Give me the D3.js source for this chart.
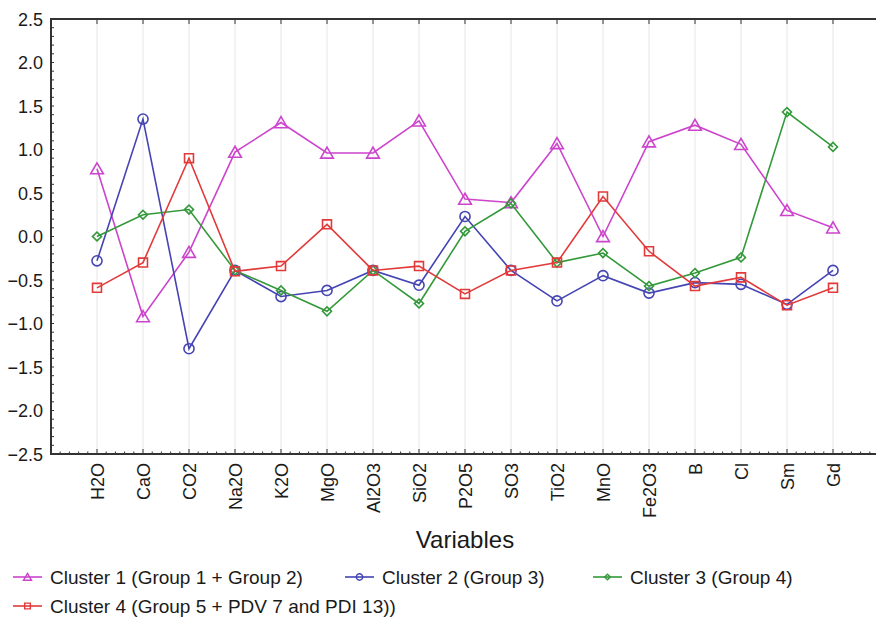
<!DOCTYPE html>
<html>
<head>
<meta charset="utf-8">
<script src="https://cdn.jsdelivr.net/npm/d3@7"></script>
<style>
  html, body { margin: 0; padding: 0; background: #fff; }
  svg { display: block; font-family: "Liberation Sans", Arial, sans-serif; }
</style>
</head>
<body>
<svg id="chart" width="876" height="617"></svg>
<script>
// Variables along the x axis
const variables = ["H2O", "CaO", "CO2", "Na2O", "K2O", "MgO", "Al2O3", "SiO2", "P2O5",
                   "SO3", "TiO2", "MnO", "Fe2O3", "B", "Cl", "Sm", "Gd"];

// Mean standardized values per cluster
const cluster1 = [0.78, -0.92, -0.18, 0.97, 1.31, 0.96, 0.96, 1.33, 0.43, 0.39, 1.07, 0.00, 1.09, 1.28, 1.06, 0.30, 0.10];
const cluster2 = [-0.28, 1.35, -1.29, -0.39, -0.69, -0.62, -0.39, -0.56, 0.23, -0.39, -0.74, -0.45, -0.65, -0.53, -0.55, -0.78, -0.39];
const cluster3 = [0.00, 0.25, 0.31, -0.39, -0.62, -0.86, -0.39, -0.77, 0.06, 0.38, -0.30, -0.19, -0.57, -0.42, -0.24, 1.43, 1.03];
const cluster4 = [-0.59, -0.30, 0.90, -0.40, -0.34, 0.14, -0.39, -0.34, -0.66, -0.39, -0.30, 0.46, -0.17, -0.57, -0.47, -0.79, -0.59];

const seriesNames = [
  "Cluster 1 (Group 1 + Group 2)",
  "Cluster 2 (Group 3)",
  "Cluster 3 (Group 4)",
  "Cluster 4 (Group 5 + PDV 7 and PDI 13))"
];

const yTicks = [2.5, 2.0, 1.5, 1.0, 0.5, 0.0, -0.5, -1.0, -1.5, -2.0, -2.5];

const series = [
  { name: seriesNames[0], values: cluster1, color: "#cc44cc", symbol: "triangle" },
  { name: seriesNames[1], values: cluster2, color: "#4444b4", symbol: "circle" },
  { name: seriesNames[2], values: cluster3, color: "#33993a", symbol: "diamond" },
  { name: seriesNames[3], values: cluster4, color: "#e23a3a", symbol: "square" }
];

const svg = d3.select("#chart");
const plot = { left: 51, right: 879, top: 19, bottom: 454 };

// one empty slot on each side of the variables
const x = d3.scaleLinear().domain([-1, variables.length]).range([plot.left, plot.right]);
const y = d3.scaleLinear().domain([-2.5, 2.5]).range([plot.bottom, plot.top]);

const axisColor = "#333";

// faint vertical grid at each variable
svg.append("g")
  .selectAll("line")
  .data(variables)
  .join("line")
  .attr("x1", (d, i) => x(i)).attr("x2", (d, i) => x(i))
  .attr("y1", plot.top).attr("y2", plot.bottom)
  .attr("stroke", "#e6e6e6").attr("stroke-width", 1);

// minor / major tick values
const yMinor = d3.range(-25, 26).map(v => v / 10);
const xMinor = d3.range(-5, variables.length * 5 + 5).map(v => v / 5).filter(v => Math.abs(v - Math.round(v)) > 1e-6);

// left axis labels
const leftAxis = d3.axisLeft(y).tickValues(yTicks).tickFormat(d3.format(".1f")).tickSize(0).tickPadding(8);
svg.append("g")
  .attr("transform", `translate(${plot.left},0)`)
  .call(leftAxis)
  .call(g => g.select(".domain").remove())
  .call(g => g.selectAll("text").attr("font-size", 18).attr("fill", "#1a1a1a")
      .attr("font-family", "Liberation Sans, Arial, sans-serif").attr("dy", "0.35em"));

const ticks = svg.append("g").attr("stroke", axisColor).attr("stroke-width", 1);
// y minor ticks left and right, inward
ticks.selectAll(".ylm").data(yMinor).join("line")
  .attr("x1", plot.left).attr("x2", plot.left + 3)
  .attr("y1", d => y(d)).attr("y2", d => y(d));
ticks.selectAll(".yrm").data(yMinor).join("line")
  .attr("x1", plot.right).attr("x2", plot.right - 3)
  .attr("y1", d => y(d)).attr("y2", d => y(d));
// x major ticks top and bottom, inward
ticks.selectAll(".xt").data(variables).join("line")
  .attr("x1", (d, i) => x(i)).attr("x2", (d, i) => x(i))
  .attr("y1", plot.top).attr("y2", plot.top + 5);
ticks.selectAll(".xb").data(variables).join("line")
  .attr("x1", (d, i) => x(i)).attr("x2", (d, i) => x(i))
  .attr("y1", plot.bottom).attr("y2", plot.bottom - 5);
// x minor ticks on bottom
ticks.selectAll(".xbm").data(xMinor).join("line")
  .attr("x1", d => x(d)).attr("x2", d => x(d))
  .attr("y1", plot.bottom).attr("y2", plot.bottom - 2.5);

// frame
svg.append("rect")
  .attr("x", plot.left).attr("y", plot.top)
  .attr("width", plot.right - plot.left).attr("height", plot.bottom - plot.top)
  .attr("fill", "none").attr("stroke", axisColor).attr("stroke-width", 2);

// x tick labels, rotated
const bottomAxis = d3.axisBottom(x).tickValues(d3.range(variables.length))
  .tickFormat(i => variables[i]).tickSize(0).tickPadding(0);
svg.append("g")
  .attr("transform", `translate(0,${plot.bottom})`)
  .call(bottomAxis)
  .call(g => g.select(".domain").remove())
  .call(g => g.selectAll("text")
      .attr("font-size", 18).attr("fill", "#1a1a1a")
      .attr("font-family", "Liberation Sans, Arial, sans-serif")
      .attr("text-anchor", "end")
      .attr("transform", "rotate(-90)")
      .attr("x", -9).attr("y", 0).attr("dy", "0.35em"));

// axis title
svg.append("text")
  .attr("x", 465).attr("y", 548)
  .attr("text-anchor", "middle")
  .attr("font-size", 24).attr("fill", "#1a1a1a")
  .text("Variables");

// marker shapes; the diamond is a square turned 45 degrees
function symbolPath(kind, size) {
  const map = { triangle: d3.symbolTriangle, circle: d3.symbolCircle, diamond: d3.symbolSquare, square: d3.symbolSquare };
  return d3.symbol().type(map[kind]).size(size)();
}
const markerSize = { triangle: 70, circle: 80, diamond: 40, square: 80 };
const markerRotate = { triangle: 0, circle: 0, diamond: 45, square: 0 };

const line = d3.line().x((d, i) => x(i)).y(d => y(d));

series.forEach(s => {
  const g = svg.append("g");
  g.append("path")
    .attr("d", line(s.values))
    .attr("fill", "none").attr("stroke", s.color).attr("stroke-width", 1.6);
  g.selectAll("path.m").data(s.values).join("path")
    .attr("class", "m")
    .attr("transform", (d, i) => `translate(${x(i)},${y(d) + (s.symbol === "triangle" ? 1.5 : 0)}) rotate(${markerRotate[s.symbol]})`)
    .attr("d", symbolPath(s.symbol, markerSize[s.symbol]))
    .attr("fill", "none").attr("stroke", s.color).attr("stroke-width", 1.6);
});

// legend
const legendPos = [
  { x: 13, y: 577 }, { x: 345, y: 577 }, { x: 593, y: 577 }, { x: 13, y: 606 }
];
series.forEach((s, i) => {
  const p = legendPos[i];
  const g = svg.append("g").attr("transform", `translate(${p.x},${p.y})`);
  g.append("line").attr("x1", 0).attr("x2", 29).attr("y1", 0).attr("y2", 0)
    .attr("stroke", s.color).attr("stroke-width", 1.6);
  g.append("path")
    .attr("transform", `translate(14.5,${s.symbol === "triangle" ? 1 : 0}) rotate(${markerRotate[s.symbol]})`)
    .attr("d", symbolPath(s.symbol, markerSize[s.symbol] * 0.4))
    .attr("fill", "none").attr("stroke", s.color).attr("stroke-width", 1.4);
  g.append("text").attr("x", 37).attr("y", 0).attr("dy", "0.35em")
    .attr("font-size", 19).attr("fill", "#1a1a1a")
    .text(s.name);
});
</script>
</body>
</html>
